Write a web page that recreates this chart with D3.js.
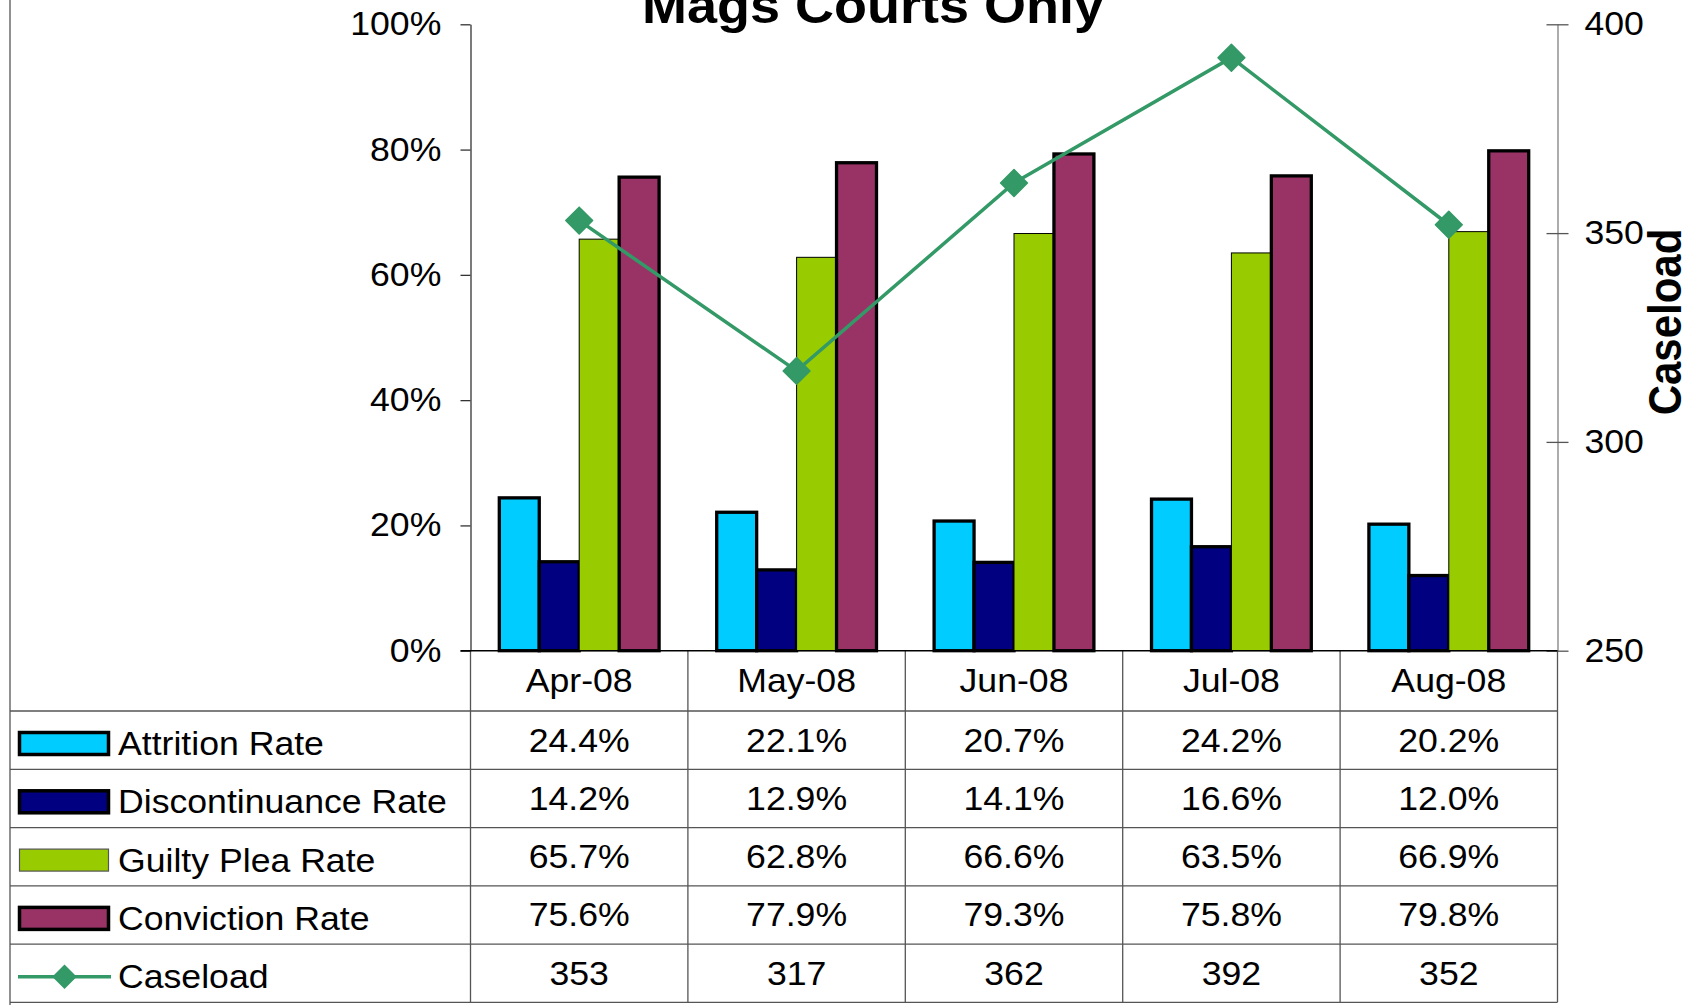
<!DOCTYPE html>
<html>
<head>
<meta charset="utf-8">
<script src="https://cdn.jsdelivr.net/npm/d3@7"></script>
<style>
  body { margin: 0; background: #fff; }
  text { font-family: "Liberation Sans", Arial, sans-serif; fill: #000; }
</style>
</head>
<body>
<div id="chart"></div>
<script>
// data
var months = ['Apr-08', 'May-08', 'Jun-08', 'Jul-08', 'Aug-08'];
var seriesNames = ['Attrition Rate', 'Discontinuance Rate', 'Guilty Plea Rate', 'Conviction Rate'];
var attrition = [24.4, 22.1, 20.7, 24.2, 20.2];
var discontinuance = [14.2, 12.9, 14.1, 16.6, 12.0];
var guiltyPlea = [65.7, 62.8, 66.6, 63.5, 66.9];
var conviction = [75.6, 77.9, 79.3, 75.8, 79.8];
var caseload = [353, 317, 362, 392, 352];
var pctTicks = [0, 20, 40, 60, 80, 100];
var caseTicks = [250, 300, 350, 400];

var seriesValues = [attrition, discontinuance, guiltyPlea, conviction];
var colors = ['#00CCFF', '#000080', '#99CC00', '#993366'];
var lineColor = '#339966';
var sx = 1.08; // fonts in the picture look a bit wide

var W = 1706, H = 1005;
var plotL = 470.5, plotR = 1557.5, plotT = 24.3, plotB = 650.7;
var tableLeft = 10, rowH = 58.3;
var headerBottom = 711;

var svg = d3.select('#chart').append('svg')
    .attr('width', W)
    .attr('height', H);

function label(g, x, y, txt, size, anchor, weight) {
    return g.append('text')
        .attr('transform', 'translate(' + x + ',' + y + ') scale(' + sx + ',1)')
        .attr('text-anchor', anchor || 'start')
        .style('font-size', size + 'px')
        .style('font-weight', weight || 'normal')
        .text(txt);
}

var x0 = d3.scaleBand().domain(months).range([plotL, plotR]);
var groupW = x0.bandwidth() * 0.735;
var x1 = d3.scaleBand().domain(seriesNames).range([0, groupW]);
var yL = d3.scaleLinear().domain([0, 100]).range([plotB, plotT]);
var yR = d3.scaleLinear().domain([250, 400]).range([plotB, plotT]);

// table lines
var grid = svg.append('g').attr('stroke', '#555').attr('stroke-width', 1.3);
grid.append('line').attr('x1', tableLeft).attr('x2', tableLeft).attr('y1', 0).attr('y2', H);
var rowLines = d3.range(6).map(function (i) { return headerBottom + i * rowH; });
rowLines[5] = 1002.3;
grid.selectAll('.hline').data(rowLines).enter().append('line')
    .attr('x1', tableLeft).attr('x2', plotR)
    .attr('y1', function (d) { return d; }).attr('y2', function (d) { return d; });
var vlines = months.map(function (m) { return x0(m); }).concat([plotR]);
grid.selectAll('.vline').data(vlines).enter().append('line')
    .attr('x1', function (d) { return d; }).attr('x2', function (d) { return d; })
    .attr('y1', plotB).attr('y2', 1002.3);

// bars
seriesNames.forEach(function (s, si) {
    svg.append('g').selectAll('rect')
        .data(seriesValues[si])
        .enter()
        .append('rect')
        .attr('x', function (d, i) { return x0(months[i]) + (x0.bandwidth() - groupW) / 2 + x1(s); })
        .attr('width', x1.bandwidth())
        .attr('y', function (d) { return yL(d); })
        .attr('height', function (d) { return plotB - yL(d); })
        .style('fill', colors[si])
        .style('stroke', '#000')
        .style('stroke-width', si == 2 ? 1 : 3.3);
});

// left axis
var axL = svg.append('g')
    .attr('transform', 'translate(' + plotL + ',0)')
    .call(d3.axisLeft(yL).tickValues(pctTicks).tickFormat(function (d) { return d + '%'; })
        .tickSize(10).tickSizeOuter(0).tickPadding(17));
axL.select('.domain').attr('stroke', '#333').attr('stroke-width', 1.3);
axL.selectAll('.tick line').attr('stroke', '#333').attr('stroke-width', 1.3);
axL.selectAll('.tick text')
    .style('font-size', '33px').style('font-family', '"Liberation Sans", Arial, sans-serif')
    .attr('fill', '#000')
    .attr('transform', 'scale(' + sx + ',1)');

// right axis
var axR = svg.append('g')
    .attr('transform', 'translate(' + plotR + ',0)')
    .call(d3.axisRight(yR).tickValues(caseTicks).tickSize(10).tickSizeOuter(0).tickPadding(15));
axR.select('.domain').attr('stroke', '#808080').attr('stroke-width', 1.3);
axR.selectAll('.tick line').attr('stroke', '#555').attr('stroke-width', 1.3).attr('x1', -11).attr('x2', 11);
axR.selectAll('.tick text')
    .style('font-size', '33px').style('font-family', '"Liberation Sans", Arial, sans-serif')
    .attr('fill', '#000')
    .attr('transform', 'scale(' + sx + ',1)');

// x baseline
svg.append('line')
    .attr('x1', plotL - 10).attr('x2', plotR)
    .attr('y1', plotB).attr('y2', plotB)
    .attr('stroke', '#000').attr('stroke-width', 1.5);

// caseload line
var xc = function (i) { return x0(months[i]) + x0.bandwidth() / 2; };
svg.append('path')
    .datum(caseload)
    .attr('d', d3.line().x(function (d, i) { return xc(i); }).y(function (d) { return yR(d); }))
    .attr('fill', 'none')
    .attr('stroke', lineColor)
    .attr('stroke-width', 3.5);
svg.append('g').selectAll('path')
    .data(caseload)
    .enter()
    .append('path')
    .attr('d', d3.symbol().type(d3.symbolSquare).size(360))
    .attr('transform', function (d, i) { return 'translate(' + xc(i) + ',' + yR(d) + ') rotate(45)'; })
    .attr('fill', lineColor)
    .attr('stroke', lineColor)
    .attr('stroke-width', 1.5)
    .attr('stroke-linejoin', 'round');

// title + right axis title
label(svg, 873, 23, 'Mags Courts Only', 50, 'middle', 'bold');
svg.append('text')
    .attr('transform', 'translate(1681,322) rotate(-90) scale(1,' + sx + ')')
    .attr('text-anchor', 'middle')
    .style('font-size', '42px')
    .style('font-weight', 'bold')
    .text('Caseload');

// month header
months.forEach(function (m) {
    label(svg, x0(m) + x0.bandwidth() / 2, plotB + 41, m, 33, 'middle');
});

// table body
var tbl = svg.append('g');
seriesNames.concat(['Caseload']).forEach(function (s, r) {
    var rowTop = headerBottom + r * rowH;
    if (r < 4) {
        tbl.append('rect')
            .attr('x', 19.5).attr('y', rowTop + 21.5)
            .attr('width', 89).attr('height', 22)
            .style('fill', colors[r])
            .style('stroke', r == 2 ? '#555' : '#000')
            .style('stroke-width', r == 2 ? 1.2 : 3.5);
    } else {
        tbl.append('line')
            .attr('x1', 18).attr('x2', 111)
            .attr('y1', rowTop + 32.5).attr('y2', rowTop + 32.5)
            .attr('stroke', lineColor).attr('stroke-width', 3.5);
        tbl.append('path')
            .attr('d', d3.symbol().type(d3.symbolSquare).size(300))
            .attr('transform', 'translate(64.5,' + (rowTop + 32.5) + ') rotate(45)')
            .attr('fill', lineColor);
    }
    label(tbl, 118, rowTop + 44, s, 33, 'start');
    var vals = r < 4 ? seriesValues[r] : caseload;
    vals.forEach(function (v, i) {
        var t = r < 4 ? v.toFixed(1) + '%' : String(v);
        label(tbl, xc(i), rowTop + 40.5, t, 33, 'middle');
    });
});
</script>
</body>
</html>
